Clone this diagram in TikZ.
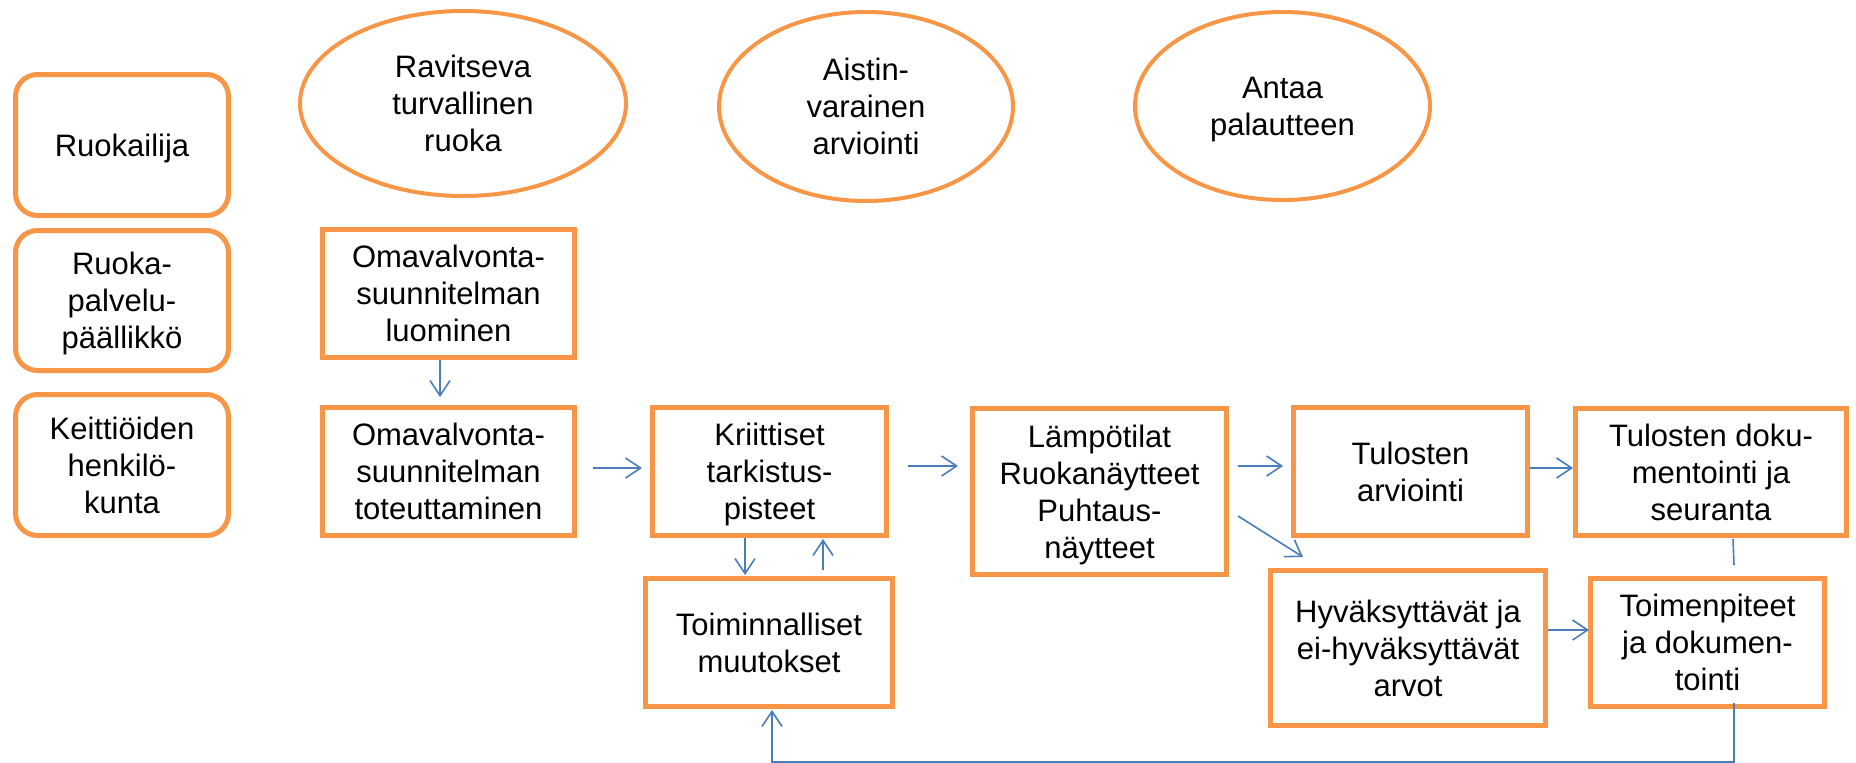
\documentclass[tikz,border=0pt]{standalone}
\usepackage{fontspec}
\setmainfont{Liberation Sans}
\usetikzlibrary{shapes.geometric,arrows.meta,calc}
\definecolor{orng}{HTML}{F79646}
\definecolor{arrblue}{HTML}{4A7EBB}
\newcommand{\tl}[1]{\raisebox{-4pt}[\height][\depth]{\begin{tabular}{@{}c@{}}#1\end{tabular}}}
\tikzset{
  txt/.style={font=\fontsize{31}{37}\selectfont, text=black, inner sep=0pt},
  rbox/.style={txt, draw=orng, line width=5pt, rounded corners=22pt, minimum width=213pt},
  sbox/.style={txt, draw=orng, line width=5pt},
  ell/.style={txt, ellipse, draw=orng, line width=4pt},
  arr/.style={draw=arrblue, line width=1.6pt, -{Straight Barb[length=15pt,width=20pt,line width=1.6pt]}},
  plain/.style={draw=arrblue, line width=1.6pt}
}
\begin{document}
\begin{tikzpicture}[x=1pt,y=-1pt]
\useasboundingbox (0,0) rectangle (1856,763);
% left column
\node[rbox, minimum height=141pt] (L1) at (122,145) {\tl{Ruokailija}};
\node[rbox, minimum height=140pt] (L2) at (122,300.5) {\tl{Ruoka-\\palvelu-\\päällikkö}};
\node[rbox, minimum height=141pt] (L3) at (122,465) {\tl{Keittiöiden\\henkilö-\\kunta}};
% ellipses
\node[ell, minimum width=326pt, minimum height=185pt] (E1) at (463,103.5) {\tl{Ravitseva\\turvallinen\\ruoka}};
\node[ell, minimum width=294pt, minimum height=189pt] (E2) at (866,106.5) {\tl{Aistin-\\varainen\\arviointi}};
\node[ell, minimum width=295pt, minimum height=188pt] (E3) at (1282.5,106) {\tl{Antaa\\palautteen}};
% boxes
\node[sbox, minimum width=252pt, minimum height=128pt] (O1) at (448.5,293.5) {\tl{Omavalvonta-\\suunnitelman\\luominen}};
\node[sbox, minimum width=252pt, minimum height=128pt] (O2) at (448.5,471.5) {\tl{Omavalvonta-\\suunnitelman\\toteuttaminen}};
\node[sbox, minimum width=234pt, minimum height=128pt] (K) at (769.5,471.5) {\tl{Kriittiset\\tarkistus-\\pisteet}};
\node[sbox, minimum width=247pt, minimum height=128pt] (T) at (769,642.5) {\tl{Toiminnalliset\\muutokset}};
\node[sbox, minimum width=254pt, minimum height=166pt] (L) at (1099.5,491.5) {\tl{Lämpötilat\\Ruokanäytteet\\Puhtaus-\\näytteet}};
\node[sbox, minimum width=234pt, minimum height=128pt] (TA) at (1410.5,471.5) {\tl{Tulosten\\arviointi}};
\node[sbox, minimum width=275pt, minimum height=155pt] (H) at (1408,648) {\tl{Hyväksyttävät ja\\ei-hyväksyttävät\\arvot}};
\node[sbox, minimum width=271pt, minimum height=127pt] (TD) at (1711,472) {\tl{Tulosten doku-\\mentointi ja\\seuranta}};
\node[sbox, minimum width=234pt, minimum height=128pt] (TP) at (1707.5,642.5) {\tl{Toimenpiteet\\ja dokumen-\\tointi}};
% connectors
\draw[arr] ($(O1.south)+(-8.5,0)$) -- ($(O2.north)+(-8.5,-8)$);
\draw[arr] ($(O2.east)+(16,-3.5)$) -- ($(K.west)+(-8,-3.5)$);
\draw[arr] ($(K.south)+(-24.5,0)$) -- ($(T.north)+(-24,-1)$);
\draw[arr] ($(T.north)+(54,-6)$) -- ($(K.south)+(53.5,1)$);
\draw[arr] ($(K.east)+(19,-5.5)$) -- ($(L.west)+(-12,-25.5)$);
\draw[arr] ($(L.east)+(9,-25.5)$) -- ($(TA.west)+(-8,-5.5)$);
\draw[arr] ($(L.east)+(9,24.5)$) -- ($(H.north west)+(35,-11)$);
\draw[arr] ($(TA.east)+(0,-3.5)$) -- ($(TD.west)+(0,-4)$);
\draw[arr] ($(H.east)+(0,-18)$) -- ($(TP.west)+(1,-12.5)$);
\draw[plain] ($(TD.south)+(22,1)$) -- ($(TP.north)+(26.5,-11)$);
\draw[arr] ($(TP.south)+(26.5,-6)$) -- ++(0,59) -| ($(T.south)+(3,1)$);
\end{tikzpicture}
\end{document}
